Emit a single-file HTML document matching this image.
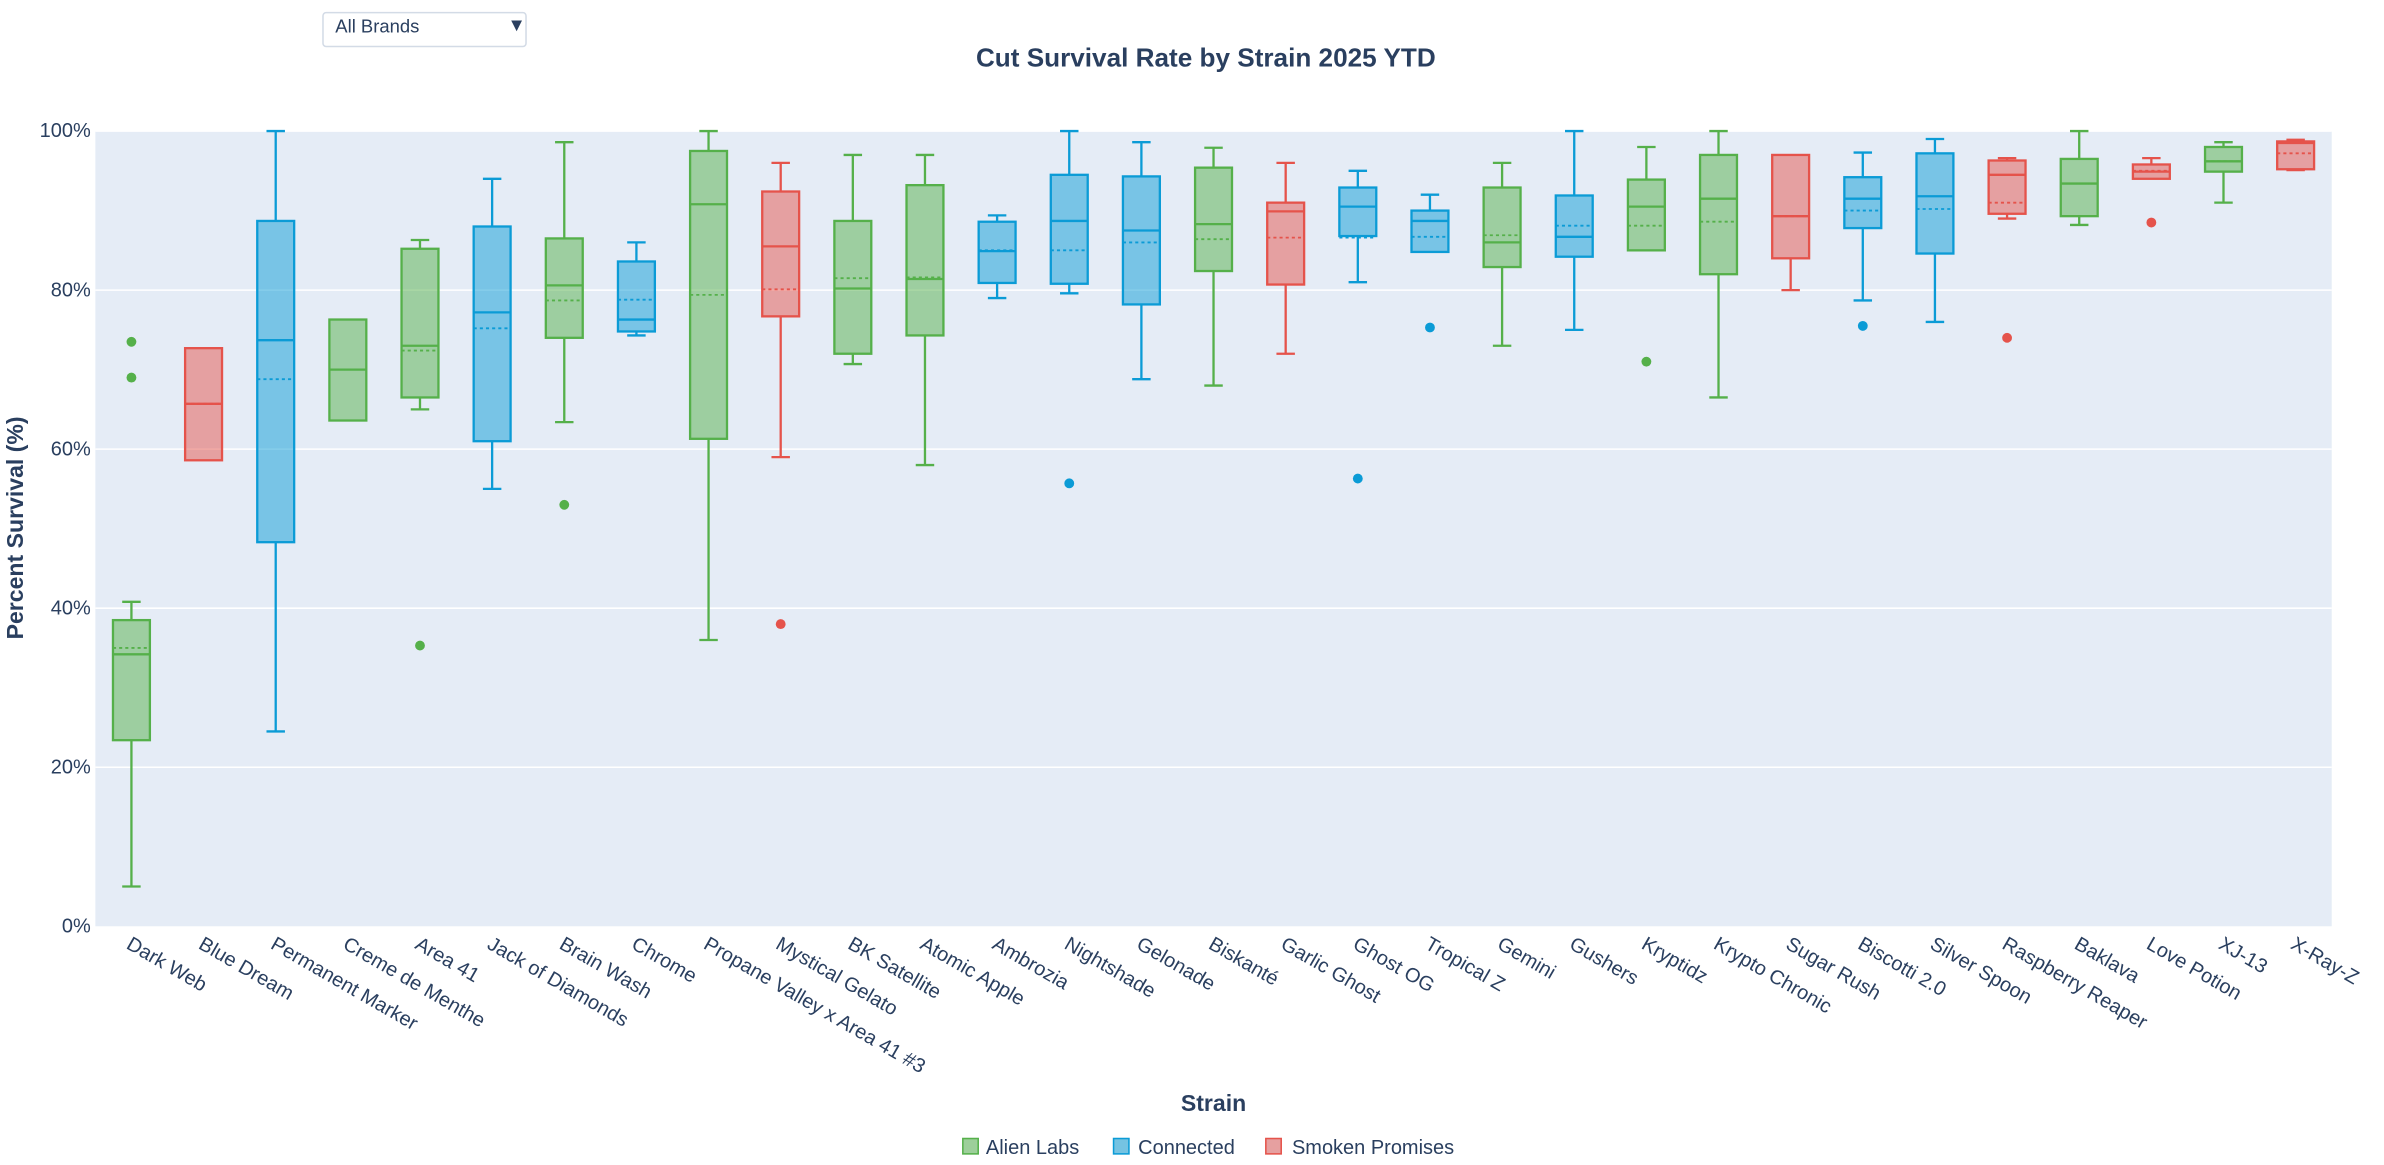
<!DOCTYPE html>
<html><head><meta charset="utf-8"><style>
html,body{margin:0;padding:0;background:#fff;}
svg{display:block;font-family:"Liberation Sans","DejaVu Sans",sans-serif;}
</style></head><body>
<svg id="chart" width="2384" height="1165" viewBox="0 0 1550 757" xmlns="http://www.w3.org/2000/svg">
<rect x="0" y="0" width="1550" height="757" fill="#fff"/>
<rect x="62" y="85" width="1454" height="517" fill="#e5ecf6"/>
<g id="grid"></g>
<g id="boxes"></g>
<g id="yticks"></g>
<g id="xticks"></g>
<text x="784" y="43" text-anchor="middle" font-size="17" font-weight="bold" fill="#2a3f5f">Cut Survival Rate by Strain 2025 YTD</text>
<text transform="translate(15,343) rotate(-90)" text-anchor="middle" font-size="15" font-weight="bold" fill="#2a3f5f">Percent Survival (%)</text>
<text x="789" y="722" text-anchor="middle" font-size="15" font-weight="bold" fill="#2a3f5f">Strain</text>
<g>
<rect x="210" y="8" width="132" height="22" rx="2" fill="#fff" stroke="#d3dbe6" stroke-width="1"/>
<text x="218" y="21" font-size="12" fill="#2a3f5f">All Brands</text>
<text x="330" y="20" font-size="12" fill="#2a3f5f">▼</text>
</g>
<g font-size="13" fill="#2a3f5f">
<g><rect x="626" y="740" width="10" height="10" fill="#9dcf9a" stroke="#55b04a"/><text x="641" y="750">Alien Labs</text></g>
<g><rect x="724" y="740" width="10" height="10" fill="#75c3e2" stroke="#0b9bd6"/><text x="740" y="750">Connected</text></g>
<g><rect x="823" y="740" width="10" height="10" fill="#e6a0a0" stroke="#e5534b"/><text x="840" y="750">Smoken Promises</text></g>
</g>
</svg>
<script>
const categories = ["Dark Web","Blue Dream","Permanent Marker","Creme de Menthe","Area 41","Jack of Diamonds","Brain Wash","Chrome","Propane Valley x Area 41 #3","Mystical Gelato","BK Satellite","Atomic Apple","Ambrozia","Nightshade","Gelonade","Biskanté","Garlic Ghost","Ghost OG","Tropical Z","Gemini","Gushers","Kryptidz","Krypto Chronic","Sugar Rush","Biscotti 2.0","Silver Spoon","Raspberry Reaper","Baklava","Love Potion","XJ-13","X-Ray-Z"];
const brands = ["A","S","C","A","A","C","A","C","A","S","A","A","C","C","C","A","S","C","C","A","C","A","A","S","C","C","S","A","S","A","S"];
const lowerWhisker = [5,58.6,24.5,63.6,65,55,63.4,74.3,36,59,70.7,58,79,79.6,68.8,68,72,81,84.8,73,75,85,66.5,80,78.7,76,89,88.2,94,91,95.1];
const q1 = [23.4,58.6,48.3,63.6,66.5,61,74,74.8,61.3,76.7,72,74.3,80.9,80.8,78.2,82.4,80.7,86.8,84.8,82.9,84.2,85,82,84,87.8,84.6,89.6,89.3,94,94.9,95.2];
const median = [34.2,65.7,73.7,70,73,77.2,80.6,76.3,90.8,85.5,80.2,81.4,84.9,88.7,87.5,88.3,89.9,90.5,88.7,86,86.7,90.5,91.5,89.3,91.5,91.8,94.5,93.4,94.9,96.2,98.5];
const q3 = [38.5,72.7,88.7,76.3,85.2,88,86.5,83.6,97.5,92.4,88.7,93.2,88.6,94.5,94.3,95.4,91,92.9,90,92.9,91.9,93.9,97,97,94.2,97.2,96.3,96.5,95.8,98,98.7];
const upperWhisker = [40.8,72.7,100,76.3,86.3,94,98.6,86,100,96,97,97,89.4,100,98.6,97.9,96,95,92,96,100,98,100,97,97.3,99,96.6,100,96.6,98.6,98.9];
const means = [35,65.7,68.8,70,72.4,75.2,78.7,78.8,79.4,80.1,81.5,81.6,85,85,86,86.4,86.6,86.6,86.7,86.9,88.1,88.1,88.6,89.3,90,90.2,91,93.4,95,96.2,97.2];
const outliers = [[73.5,69],[],[],[],[35.3],[],[53],[],[],[38],[],[],[],[55.7],[],[],[],[56.3],[75.3],[],[],[71],[],[],[75.5],[],[74],[],[88.5],[],[]];
const yTicks = [0,20,40,60,80,100];
const yTickLabels = ["0%","20%","40%","60%","80%","100%"];

const NS="http://www.w3.org/2000/svg";
const PL=62,PR=1516,PT=85,PB=602;
const step=(PR-PL)/categories.length;
const xs=i=>PL+step*(i+0.5);
const ys=v=>PB-(v/100)*(PB-PT);
const colors={A:{s:"#55b04a",f:"rgba(85,176,74,0.5)"},C:{s:"#0b9bd6",f:"rgba(11,155,214,0.5)"},S:{s:"#e5534b",f:"rgba(229,83,75,0.5)"}};
function mk(tag,attrs,parent){const e=document.createElementNS(NS,tag);for(const k in attrs)e.setAttribute(k,attrs[k]);parent.appendChild(e);return e;}
const grid=document.getElementById('grid'),yt=document.getElementById('yticks'),xt=document.getElementById('xticks'),bx=document.getElementById('boxes');
yTicks.forEach((v,i)=>{
  if(v>0){const g=mk('line',{x1:PL,x2:PR,y1:ys(v),y2:ys(v),stroke:'#fff','stroke-width':1},grid);
  
  }
  const t=mk('text',{x:PL-3,y:ys(v)+4,'text-anchor':'end','font-size':13,fill:'#2a3f5f'},yt);
  t.textContent=yTickLabels[i];
  
  
});
const bw=24;
categories.forEach((c,i)=>{
  const x=xs(i),col=colors[brands[i]];
  const g=mk('g',{},bx);
  
  
  const sw=1.5;
  mk('line',{x1:x,x2:x,y1:ys(upperWhisker[i]),y2:ys(q3[i]),stroke:col.s,'stroke-width':sw},g);
  mk('line',{x1:x,x2:x,y1:ys(q1[i]),y2:ys(lowerWhisker[i]),stroke:col.s,'stroke-width':sw},g);
  if(upperWhisker[i]>q3[i]) mk('line',{x1:x-bw/4,x2:x+bw/4,y1:ys(upperWhisker[i]),y2:ys(upperWhisker[i]),stroke:col.s,'stroke-width':sw},g);
  if(lowerWhisker[i]<q1[i]) mk('line',{x1:x-bw/4,x2:x+bw/4,y1:ys(lowerWhisker[i]),y2:ys(lowerWhisker[i]),stroke:col.s,'stroke-width':sw},g);
  mk('rect',{x:x-bw/2,y:ys(q3[i]),width:bw,height:ys(q1[i])-ys(q3[i]),fill:col.f,stroke:col.s,'stroke-width':sw},g);
  mk('line',{x1:x-bw/2,x2:x+bw/2,y1:ys(median[i]),y2:ys(median[i]),stroke:col.s,'stroke-width':sw},g);
  mk('line',{x1:x-bw/2,x2:x+bw/2,y1:ys(means[i]),y2:ys(means[i]),stroke:col.s,'stroke-width':1.2,'stroke-dasharray':'2,2'},g);
  outliers[i].forEach(o=>{
    const p=mk('circle',{cx:x,cy:ys(o),r:3.2,fill:col.s},g);
    
    
  });
  const t=mk('text',{transform:`translate(${x-4},${PB+14}) rotate(30)`,'font-size':13,fill:'#2a3f5f'},xt);
  t.textContent=c;
  
  
});
</script>
</body></html>
